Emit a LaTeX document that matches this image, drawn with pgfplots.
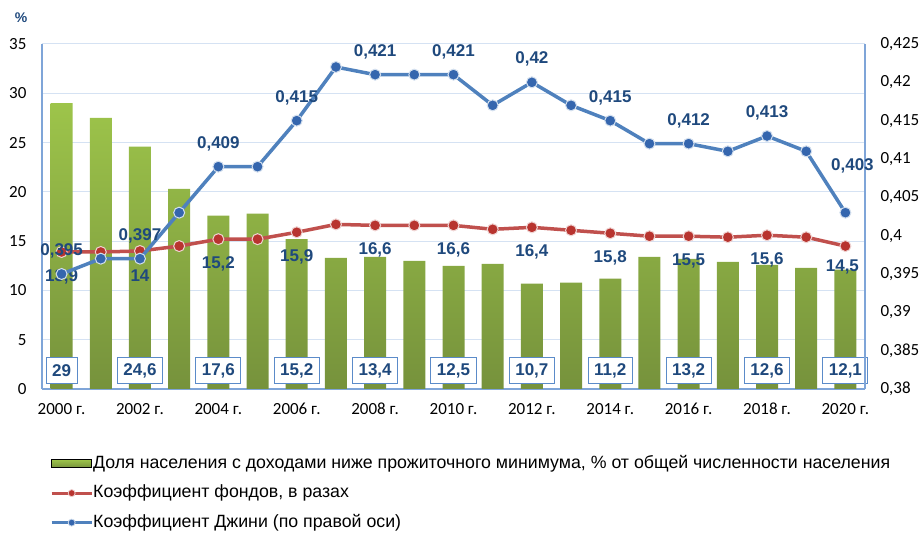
\documentclass[border=0pt]{standalone}
\usepackage{pgfplots}
\pgfplotsset{compat=1.18}
\usepackage{fontspec}
\setmainfont{Liberation Sans}
\newfontfamily\tickfont{Carlito}
\definecolor{barTop}{HTML}{9DC44A}
\definecolor{barBot}{HTML}{76923C}
\definecolor{redline}{HTML}{C0504D}
\definecolor{redmark}{HTML}{B8342F}
\definecolor{blueline}{HTML}{4F81BD}
\definecolor{bluemark}{HTML}{3566AE}
\definecolor{labelblue}{HTML}{1F497D}
\definecolor{axisblue}{HTML}{7FA5D8}
\definecolor{gridblue}{HTML}{D5E2F3}
\definecolor{boxblue}{HTML}{5B8BC9}
\tikzset{lbl/.style={font=\bfseries\fontsize{17}{17}\selectfont, text=labelblue, inner sep=0pt, anchor=center}}
\begin{document}
\begin{tikzpicture}[x=1pt,y=1pt]
\begin{axis}[
  at={(0,0)}, anchor=south west,
  scale only axis, width=823pt, height=345pt,
  clip=false,
  xmin=-0.5, xmax=20.5, ymin=0, ymax=35,
  ytick={0,5,10,15,20,25,30,35},
  xtick={0,2,4,6,8,10,12,14,16,18,20},
  xticklabels={2000 г.,2002 г.,2004 г.,2006 г.,2008 г.,2010 г.,2012 г.,2014 г.,2016 г.,2018 г.,2020 г.},
  axis x line*=bottom, axis y line*=left,
  axis line style={draw=axisblue, line width=1.2pt, -},
  ymajorgrids, grid style={draw=gridblue, line width=1pt},
  major tick length=0pt,
  tick label style={font=\tickfont\fontsize{17}{19}\selectfont},
  /pgf/number format/assume math mode=true,
  yticklabel style={xshift=-12pt},
  xticklabel style={anchor=north, text height=11pt, text depth=0pt, yshift=-11pt},
]
\addplot[ybar, bar width=22pt, draw=none, top color=barTop, bottom color=barBot] coordinates {
(0,29) (1,27.5) (2,24.6) (3,20.3) (4,17.6) (5,17.8) (6,15.2) (7,13.3) (8,13.4) (9,13.0) (10,12.5)
(11,12.7) (12,10.7) (13,10.8) (14,11.2) (15,13.4) (16,13.2) (17,12.9) (18,12.6) (19,12.3) (20,12.1)};
\addplot[color=redline, line width=3.5pt, mark=*, mark size=5.5pt, mark options={fill=redmark, draw=white!75!redline, line width=1pt}] coordinates {
(0,13.9) (1,13.9) (2,14.0) (3,14.5) (4,15.2) (5,15.2) (6,15.9) (7,16.7) (8,16.6) (9,16.6) (10,16.6)
(11,16.2) (12,16.4) (13,16.1) (14,15.8) (15,15.5) (16,15.5) (17,15.4) (18,15.6) (19,15.4) (20,14.5)};
% red labels
\addplot[draw=none, mark=none, nodes near coords, point meta=explicit symbolic,
  every node near coord/.style={lbl, yshift=-25pt}] coordinates {
(0,13.9)[13,9] (2,14.0)[14] (4,15.2)[15,2] (6,15.9)[15,9] (8,16.6)[16,6] (10,16.6)[16,6]
(12,16.4)[16,4] (14,15.8)[15,8] (16,15.5)[15,5] (18,15.6)[15,6]};
\addplot[draw=none, mark=none, nodes near coords, point meta=explicit symbolic,
  every node near coord/.style={lbl, yshift=-21pt, xshift=-3pt}] coordinates {(20,14.5)[14,5]};
% bar value boxes
\addplot[draw=none, mark=none, nodes near coords, point meta=explicit symbolic,
  every node near coord/.style={font=\bfseries\fontsize{17}{17}\selectfont, text=labelblue, anchor=center,
    draw=boxblue, line width=1pt, fill=white, inner xsep=6pt, inner ysep=0pt, minimum height=26pt}] coordinates {
(0,1.83)[29] (2,1.83)[24,6] (4,1.83)[17,6] (6,1.83)[15,2] (8,1.83)[13,4] (10,1.83)[12,5]
(12,1.83)[10,7] (14,1.83)[11,2] (16,1.83)[13,2] (18,1.83)[12,6] (20,1.83)[12,1]};
\end{axis}
\begin{axis}[
  at={(0,0)}, anchor=south west,
  scale only axis, width=823pt, height=345pt,
  clip=false,
  xmin=-0.5, xmax=20.5, ymin=0.38, ymax=0.425,
  axis x line=none, axis y line*=right,
  axis line style={draw=axisblue, line width=1.2pt, -},
  ytick={0.38,0.385,0.39,0.395,0.4,0.405,0.41,0.415,0.42,0.425},
  scaled y ticks=false,
  yticklabel style={/pgf/number format/.cd, fixed, precision=3, use comma, assume math mode=true, /tikz/.cd, xshift=12pt},
  major tick length=0pt,
  tick label style={font=\tickfont\fontsize{17}{19}\selectfont},
  legend style={at={(axis description cs:0.0097,-0.194)}, anchor=north west, draw=none, fill=none,
    inner sep=0pt, row sep=14.5pt, column sep=0pt,
    nodes={inner sep=0pt, text height=12pt, text depth=3pt},
    font=\fontsize{17.75}{19}\selectfont},
  legend cell align=left,
]
\addlegendimage{legend image code/.code={\fill[top color=barTop, bottom color=barBot] (0pt,-4pt) rectangle (40pt,4pt);}}
\addlegendentry{Доля населения с доходами ниже прожиточного минимума, \% от общей численности населения}
\addlegendimage{legend image code/.code={\draw[redline, line width=3pt] (0pt,0pt) -- (40pt,0pt); \filldraw[fill=redmark, draw=white!70!redline, line width=0.8pt] (20pt,0pt) circle (3.5pt);}}
\addlegendentry{Коэффициент фондов, в разах}
\addlegendimage{legend image code/.code={\draw[blueline, line width=3pt] (0pt,0pt) -- (40pt,0pt); \filldraw[fill=bluemark, draw=white!70!blueline, line width=0.8pt] (20pt,0pt) circle (3.5pt);}}
\addlegendentry{Коэффициент Джини (по правой оси)}
\addplot[color=blueline, line width=3.5pt, mark=*, mark size=5.5pt, mark options={fill=bluemark, draw=white!75!blueline, line width=1pt}, forget plot] coordinates {
(0,0.395) (1,0.397) (2,0.397) (3,0.403) (4,0.409) (5,0.409) (6,0.415) (7,0.422) (8,0.421) (9,0.421) (10,0.421)
(11,0.417) (12,0.420) (13,0.417) (14,0.415) (15,0.412) (16,0.412) (17,0.411) (18,0.413) (19,0.411) (20,0.403)};
\addplot[draw=none, mark=none, nodes near coords, point meta=explicit symbolic,
  every node near coord/.style={lbl, yshift=23pt}, forget plot] coordinates {
(0,0.395)[0,395] (2,0.397)[0,397] (4,0.409)[0,409] (6,0.415)[0,415] (8,0.421)[0,421] (10,0.421)[0,421]
(12,0.420)[0,42] (14,0.415)[0,415] (16,0.412)[0,412] (18,0.413)[0,413]};
\addplot[draw=none, mark=none, nodes near coords, point meta=explicit symbolic,
  every node near coord/.style={lbl, yshift=47pt, xshift=7pt}, forget plot] coordinates {(20,0.403)[0,403]};
\end{axis}
\node[font=\bfseries\fontsize{14}{14}\selectfont, text=labelblue] at (-21,371) {\%};
\pgfresetboundingbox
\useasboundingbox (-42,-145) rectangle (882,389);
\end{tikzpicture}
\end{document}
